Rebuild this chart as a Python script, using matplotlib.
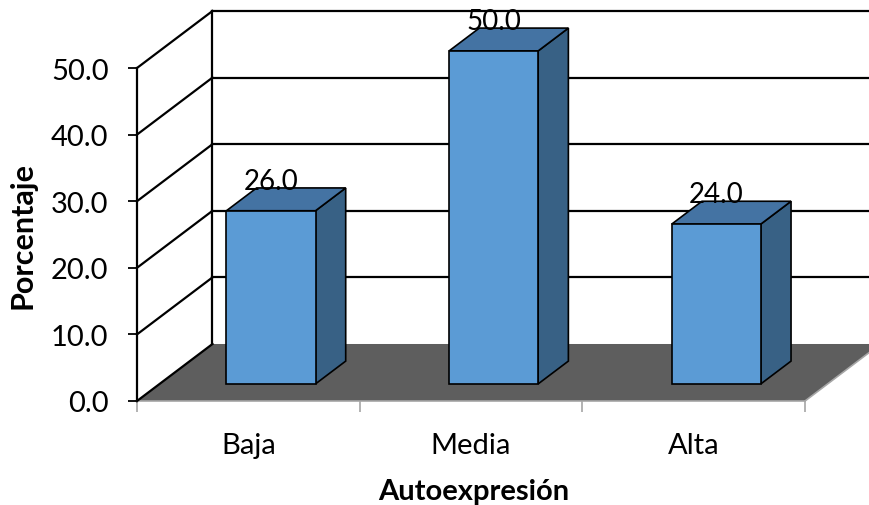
import numpy as np
import matplotlib.pyplot as plt
from matplotlib.patches import Polygon

categorias = ["Baja", "Media", "Alta"]
porcentajes = [26.0, 50.0, 24.0]
marcas_y = [0, 10, 20, 30, 40, 50]
etiquetas_y = ["0.0", "10.0", "20.0", "30.0", "40.0", "50.0"]

plt.rcParams['font.family'] = ['Lato', 'DejaVu Sans']

fig = plt.figure(figsize=(8.69, 5.06), dpi=100)
ax = fig.add_axes([137 / 869, 104 / 506, 668 / 869, 333 / 506])
ax.set_xlim(0, len(categorias))
ax.set_ylim(0, 50)

# vector de profundidad (efecto 3D) en unidades de datos
DX, DY = 0.339, 8.56
ancho = 0.4
prof_ini, prof_bar = 0.3, 0.4

frente = "#5B9BD5"
tapa = "#4473A3"
lado = "#386185"
piso = "#5E5E5E"

# pared del fondo y pared izquierda
for v in marcas_y[1:]:
    ax.plot([DX, 3.6], [v + DY, v + DY], color="black", lw=1.6, clip_on=False, zorder=1)
    ax.plot([0, DX], [v, v + DY], color="black", lw=1.6, clip_on=False, zorder=1)
ax.plot([DX, DX], [DY, 50 + DY], color="black", lw=1.6, clip_on=False, zorder=1)

# piso
n = len(categorias)
ax.add_patch(Polygon([(0, 0), (DX, DY), (n + DX, DY), (n, 0)], closed=True,
                     facecolor=piso, edgecolor="none", clip_on=False, zorder=2))
ax.plot([0, DX], [0, DY], color="black", lw=1.6, clip_on=False, zorder=3)
ax.plot([n, n + DX], [0, DY], color="#A6A6A6", lw=1.2, clip_on=False, zorder=3)

# barras
for i, v in enumerate(porcentajes):
    x0 = i + (1 - ancho) / 2 + prof_ini * DX
    y0 = prof_ini * DY
    ddx, ddy = prof_bar * DX, prof_bar * DY
    caras = [
        ([(x0 + ancho, y0), (x0 + ancho + ddx, y0 + ddy),
          (x0 + ancho + ddx, y0 + v + ddy), (x0 + ancho, y0 + v)], lado),
        ([(x0, y0 + v), (x0 + ancho, y0 + v),
          (x0 + ancho + ddx, y0 + v + ddy), (x0 + ddx, y0 + v + ddy)], tapa),
        ([(x0, y0), (x0 + ancho, y0), (x0 + ancho, y0 + v), (x0, y0 + v)], frente),
    ]
    for verts, color in caras:
        ax.add_patch(Polygon(verts, closed=True, facecolor=color, edgecolor="black",
                             lw=1.2, joinstyle="miter", clip_on=False, zorder=4))
    ax.annotate(f"{v:.1f}", (x0 + ancho / 2, y0 + v), xytext=(0, 30),
                textcoords="offset pixels", ha="center", va="center",
                fontsize=20, zorder=5, annotation_clip=False)

# ejes
for s in ["top", "right"]:
    ax.spines[s].set_visible(False)
ax.spines["left"].set_color("black")
ax.spines["left"].set_linewidth(1.6)
ax.spines["bottom"].set_color("#A6A6A6")
ax.spines["bottom"].set_linewidth(1.2)
ax.patch.set_visible(False)

ax.set_yticks(marcas_y)
ax.set_yticklabels(etiquetas_y)
ax.tick_params(axis="y", direction="out", length=6.5, width=1.3, pad=14,
               labelsize=21)

ax.set_xticks(np.arange(n + 1))
ax.set_xticklabels([])
ax.set_xticks(np.arange(n) + 0.5, minor=True)
ax.set_xticklabels(categorias, minor=True)
ax.tick_params(axis="x", which="major", direction="out", length=8, width=1.2,
               color="#A6A6A6")
ax.tick_params(axis="x", which="minor", length=0, pad=22, labelsize=21)

fig.text(23 / 869, 1 - 236 / 506, "Porcentaje", rotation=90, ha="center",
         va="center", fontsize=22, fontweight="bold")
fig.text(474 / 869, 1 - 492 / 506, "Autoexpresión", ha="center", va="center",
         fontsize=21, fontweight="bold")

fig.savefig("out.png", dpi=100)
